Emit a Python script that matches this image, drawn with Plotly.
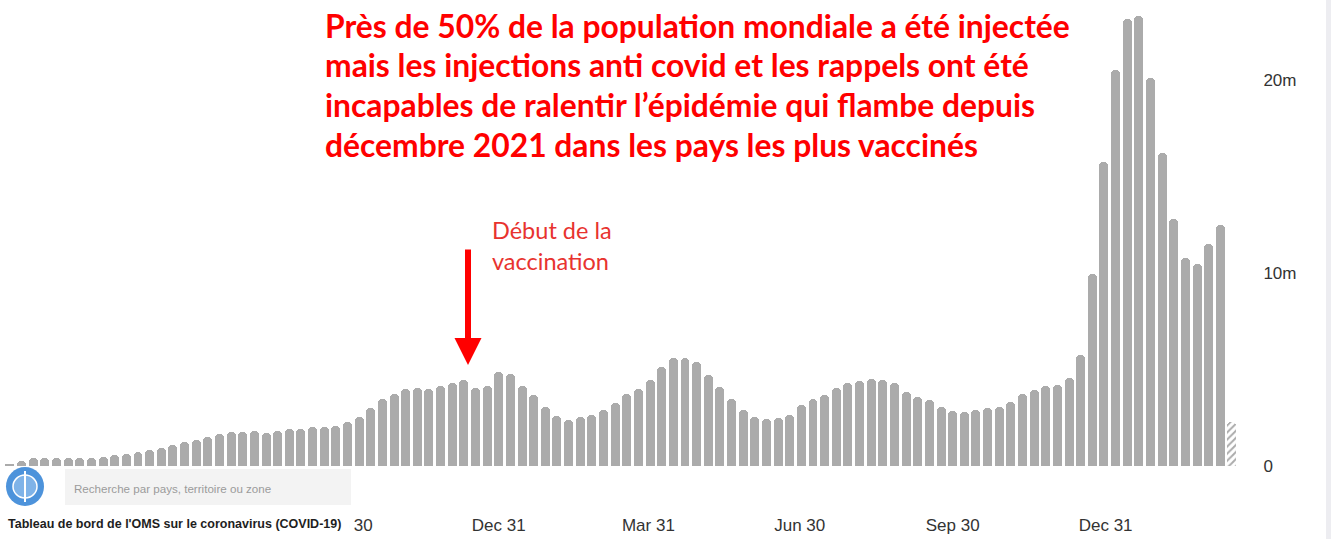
import pandas as pd
import plotly.graph_objects as go

# ---------------- data (weekly new cases, millions) ----------------
first_week = "2020-03-12"
weekly_cases_m = [
    0.08, 0.26, 0.40, 0.40, 0.40, 0.40, 0.40, 0.42, 0.45, 0.57,
    0.62, 0.75, 0.83, 0.93, 1.09, 1.23, 1.35, 1.52, 1.66, 1.78,
    1.78, 1.81, 1.73, 1.81, 1.92, 1.90, 2.04, 2.04, 2.09, 2.30,
    2.52, 3.02, 3.45, 3.73, 3.97, 4.02, 3.97, 4.13, 4.32, 4.46,
    4.06, 4.16, 4.89, 4.77, 4.15, 3.68, 3.07, 2.61, 2.38, 2.56,
    2.64, 2.90, 3.25, 3.73, 3.97, 4.46, 5.13, 5.58, 5.58, 5.37,
    4.73, 4.11, 3.45, 2.90, 2.56, 2.45, 2.50, 2.64, 3.16, 3.49,
    3.66, 4.02, 4.28, 4.42, 4.49, 4.47, 4.28, 3.85, 3.59, 3.42,
    3.04, 2.85, 2.78, 2.90, 3.02, 3.07, 3.33, 3.73, 3.94, 4.16,
    4.20, 4.54, 5.77, 9.95, 15.75, 20.5, 23.15, 23.3, 20.1, 16.2,
    12.8, 10.8, 10.45, 11.5, 12.5, 2.3,
]
partial_week = [False] * (len(weekly_cases_m) - 1) + [True]
week_dates = pd.date_range(first_week, periods=len(weekly_cases_m), freq="7D")

x_tick_dates = ["2020-09-30", "2020-12-31", "2021-03-31", "2021-06-30", "2021-09-30", "2021-12-31"]
x_tick_labels = ["Sep 30", "Dec 31", "Mar 31", "Jun 30", "Sep 30", "Dec 31"]
y_tick_vals = [0, 10, 20]
y_tick_labels = ["0", "10m", "20m"]

title_lines = [
    "Près de 50% de la population mondiale a été injectée",
    "mais les injections anti covid et les rappels ont été",
    "incapables de ralentir l’épidémie qui flambe depuis",
    "décembre 2021 dans les pays les plus vaccinés",
]
note_text = "Début de la<br>vaccination"
search_text = "Recherche par pays, territoire ou zone"
dashboard_text = "Tableau de bord de l'OMS sur le coronavirus (COVID-19)"

# ---------------- layout geometry (pixels) ----------------
FIG_W, FIG_H = 1331, 539
PL, PR, PT, PB = 0, 1245, 5, 466
W, H = PR - PL, PB - PT


def px(x):
    return (x - PL) / W


def py(y):
    return (PB - y) / H


BAR_COLOR = "#ababab"
DAY_MS = 86400000
AXFONT = "Liberation Sans, Arial, sans-serif"

fig = go.Figure()
fig.add_trace(go.Bar(
    x=week_dates,
    y=weekly_cases_m,
    width=[5.4 * DAY_MS] * len(weekly_cases_m),
    marker=dict(
        color=BAR_COLOR,
        line=dict(width=0),
        cornerradius=4,
        pattern=dict(
            shape=["/" if p else "" for p in partial_week],
            fgcolor=BAR_COLOR,
            bgcolor="white",
            size=5,
            solidity=0.4,
            fillmode="replace",
        ),
    ),
    hoverinfo="x+y",
    showlegend=False,
))

annotations = []
title_centers = [26, 65, 105, 145]
for line, cy in zip(title_lines, title_centers):
    annotations.append(dict(
        xref="paper", yref="paper", x=px(323), y=py(cy),
        xanchor="left", yanchor="middle", showarrow=False,
        text=line,
        font=dict(family="Lato, Open Sans, sans-serif", size=31.8, color="#ff0000", weight="bold"),
    ))

annotations.append(dict(
    xref="paper", yref="paper", x=px(490), y=py(214),
    xanchor="left", yanchor="top", showarrow=False, align="left",
    text=note_text,
    font=dict(family="Lato, Open Sans, sans-serif", size=23.5, color="#e8332f"),
))

# arrow
annotations.append(dict(
    xref="paper", yref="paper", x=px(468), y=py(365),
    ax=0, ay=-117, text="", showarrow=True,
    arrowhead=2, arrowwidth=6, arrowsize=0.9, arrowcolor="#ff0000", standoff=0,
))

annotations.append(dict(
    xref="paper", yref="paper", x=px(72), y=py(488),
    xanchor="left", yanchor="middle", showarrow=False,
    text=search_text,
    font=dict(family="Liberation Sans, Arial, sans-serif", size=11.6, color="#9b9b9b"),
))
annotations.append(dict(
    xref="paper", yref="paper", x=px(6), y=py(524),
    xanchor="left", yanchor="middle", showarrow=False,
    text="<b>" + dashboard_text + "</b>",
    font=dict(family="Liberation Sans, Arial, sans-serif", size=12.5, color="#1e1e1e"),
))

shapes = [
    # white panel under WHO overlay
    dict(type="rect", xref="paper", yref="paper", layer="above",
         x0=px(-5), x1=px(349), y0=py(545), y1=py(468),
         fillcolor="white", line=dict(width=0)),
    # search box
    dict(type="rect", xref="paper", yref="paper", layer="above",
         x0=px(65), x1=px(351), y0=py(505), y1=py(469),
         fillcolor="#f3f3f3", line=dict(width=0)),
    # WHO emblem (simplified)
    dict(type="circle", xref="paper", yref="paper", layer="above",
         x0=px(6), x1=px(44), y0=py(506), y1=py(467),
         fillcolor="#4d93db", line=dict(width=0)),
    dict(type="circle", xref="paper", yref="paper", layer="above",
         x0=px(13), x1=px(37), y0=py(498), y1=py(475),
         fillcolor="#7fb3e8", line=dict(color="white", width=1.5)),
    dict(type="line", xref="paper", yref="paper", layer="above",
         x0=px(25), x1=px(25), y0=py(502), y1=py(471),
         line=dict(color="white", width=2)),
    # right-edge grey strip
    dict(type="rect", xref="paper", yref="paper", layer="above",
         x0=px(1326), x1=px(1340), y0=py(545), y1=py(-5),
         fillcolor="#ededf1", line=dict(width=0)),
]

fig.update_layout(
    width=FIG_W, height=FIG_H, autosize=False,
    margin=dict(l=PL, r=FIG_W - PR, t=PT, b=FIG_H - PB, pad=0),
    paper_bgcolor="white", plot_bgcolor="white",
    bargap=0,
    annotations=annotations,
    shapes=shapes,
    showlegend=False,
)
fig.update_xaxes(
    type="date", automargin=False,
    range=["2020-03-06", "2022-03-24 20:00"],
    tickmode="array", tickvals=x_tick_dates, ticktext=x_tick_labels,
    ticks="outside", ticklen=44, tickcolor="rgba(0,0,0,0)",
    showgrid=False, zeroline=False, showline=False,
    tickfont=dict(family=AXFONT, size=17, color="#333333"),
)
fig.update_yaxes(
    side="right", automargin=False,
    range=[0, (PB - PT) / 19.3],
    tickmode="array", tickvals=y_tick_vals, ticktext=y_tick_labels,
    ticks="outside", ticklen=14, tickcolor="rgba(0,0,0,0)",
    showgrid=False, zeroline=False, showline=False,
    tickfont=dict(family=AXFONT, size=17, color="#333333"),
)

fig.write_html("out.html", config={"displayModeBar": False},
               post_script="document.body.style.margin='0';")
